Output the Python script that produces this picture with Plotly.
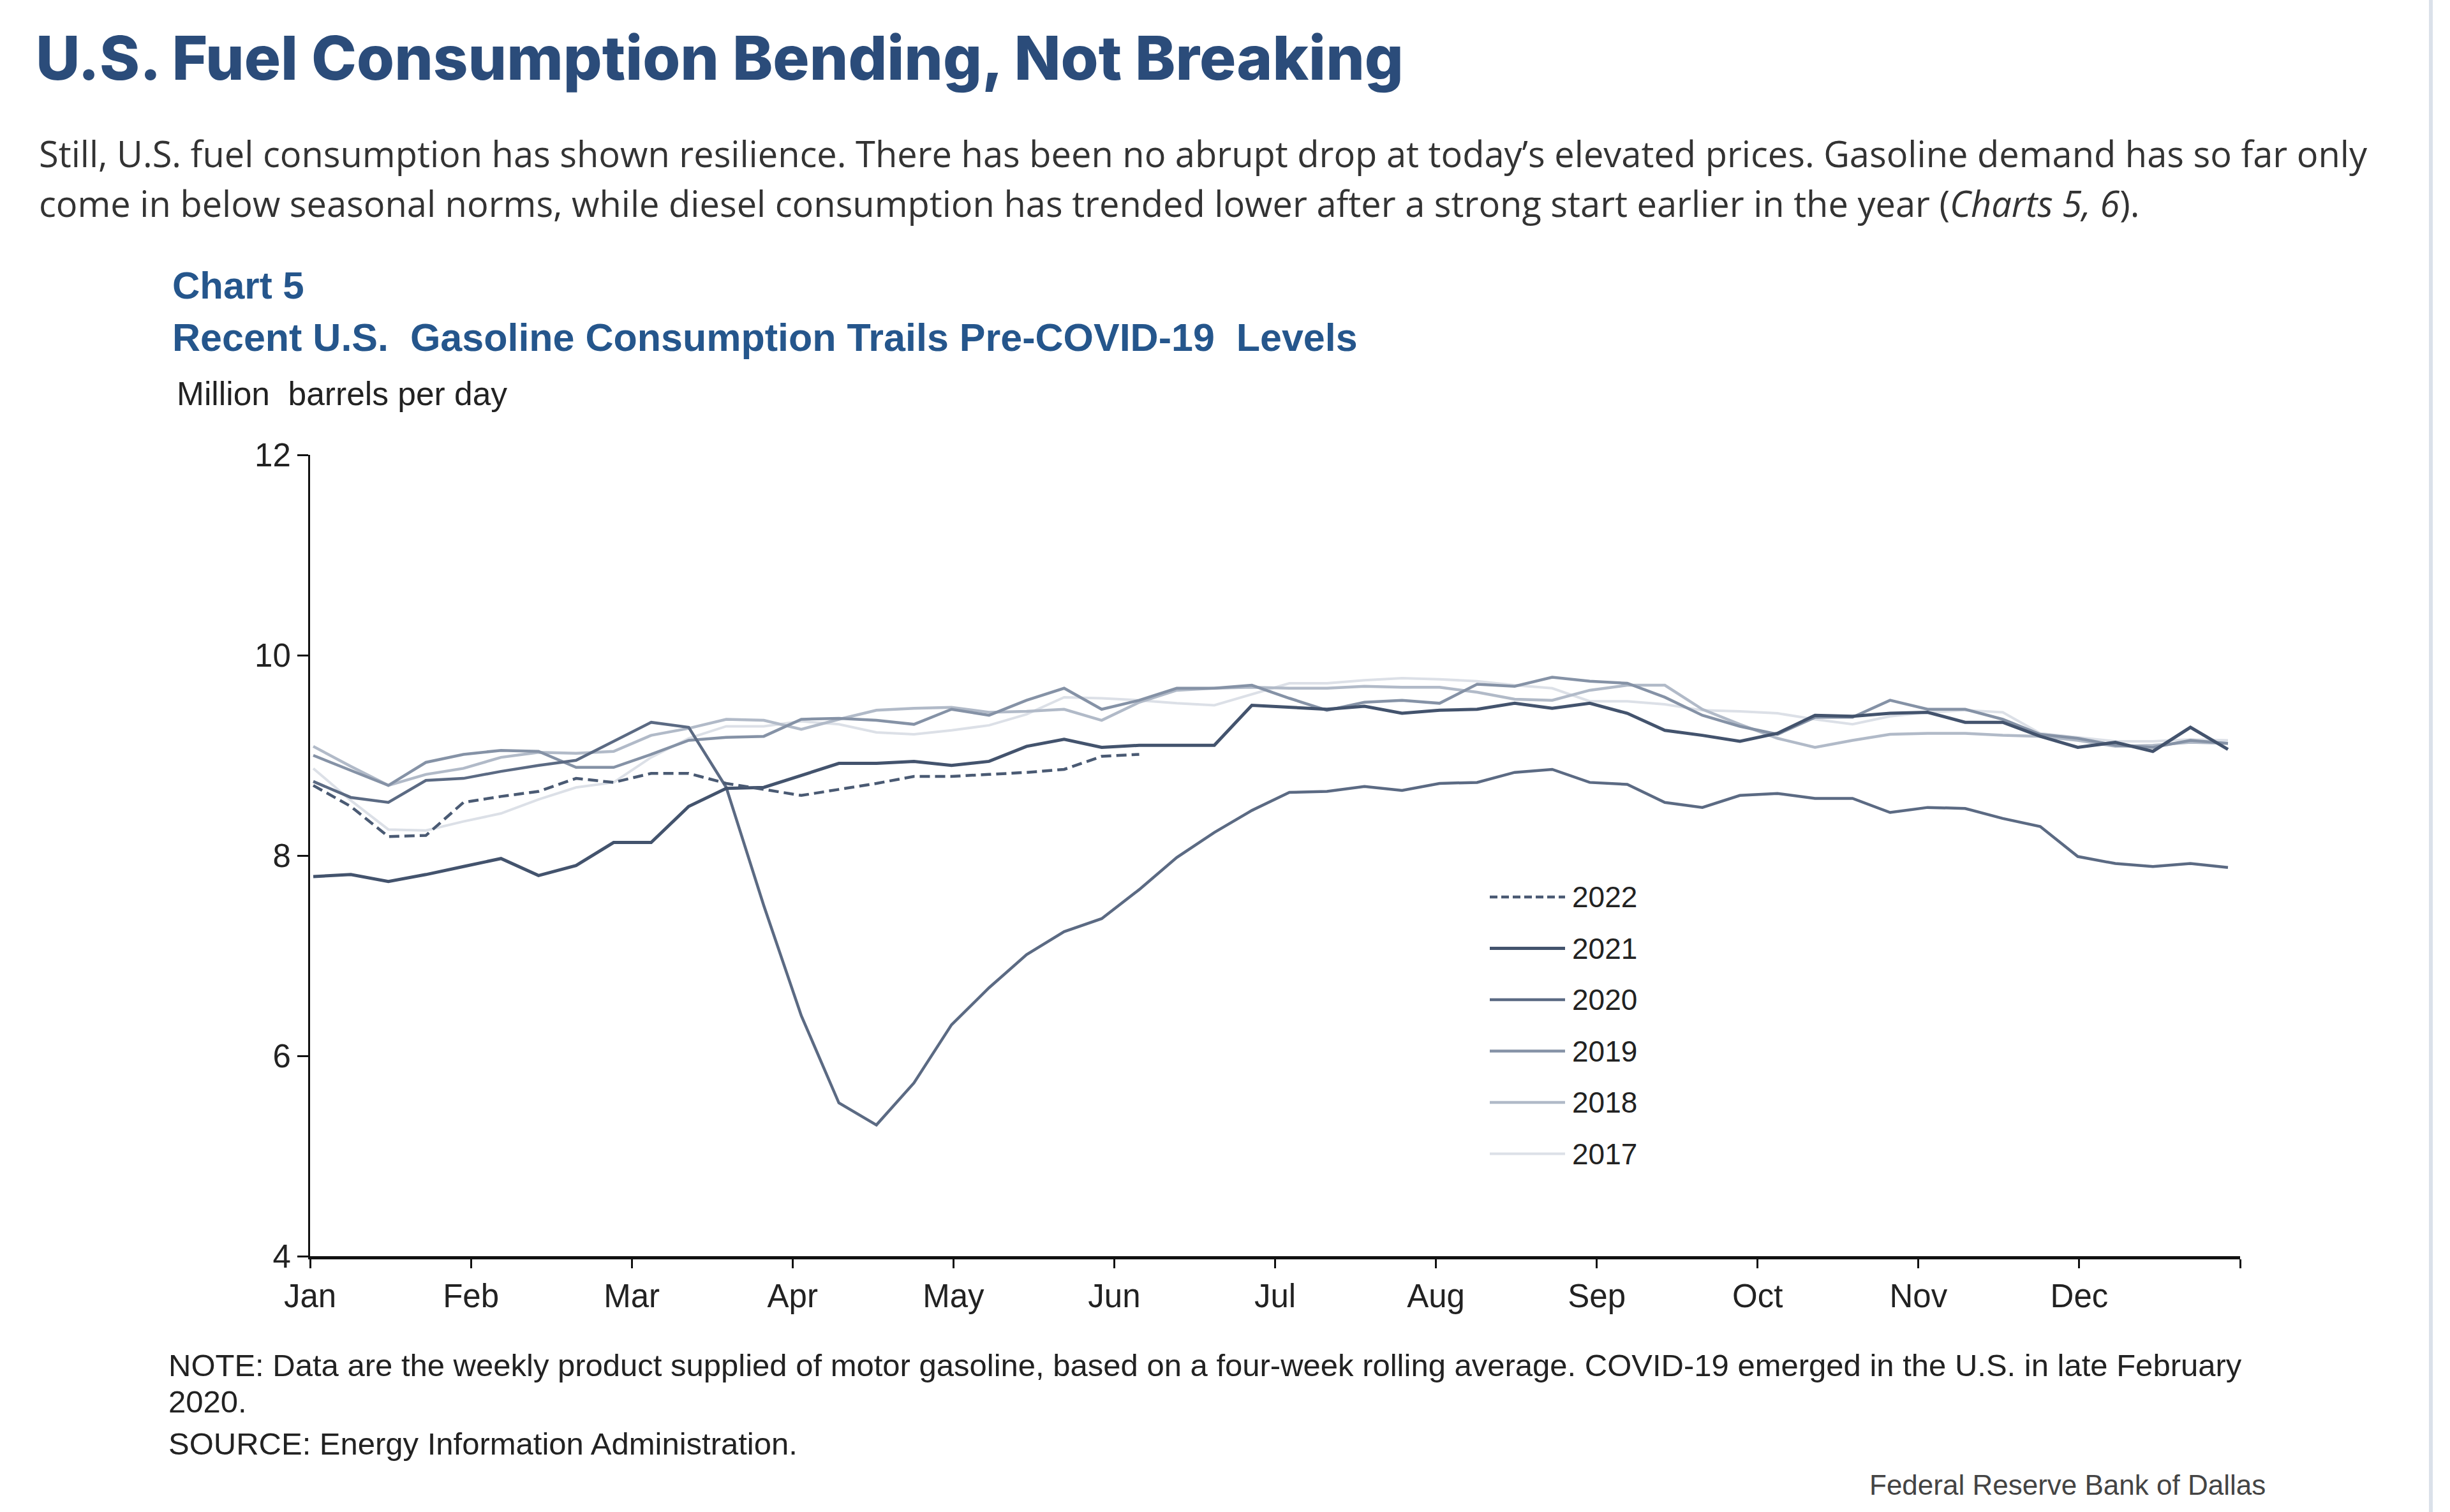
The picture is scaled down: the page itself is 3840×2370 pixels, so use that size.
import plotly.graph_objects as go

# ---------------- data (million barrels per day, weekly, 4-wk avg) ----------------
weeks = list(range(52))
weeks_2022 = list(range(23))
month_labels = ["Jan", "Feb", "Mar", "Apr", "May", "Jun", "Jul", "Aug", "Sep", "Oct", "Nov", "Dec"]
years = ["2022", "2021", "2020", "2019", "2018", "2017"]

y2017 = [8.87, 8.55, 8.26, 8.25, 8.34, 8.42, 8.56, 8.68, 8.73, 8.98, 9.17, 9.29, 9.29, 9.34,
         9.31, 9.23, 9.21, 9.25, 9.30, 9.41, 9.58, 9.57, 9.55, 9.52, 9.50, 9.61, 9.72,
         9.72, 9.75, 9.77, 9.76, 9.74, 9.70, 9.67, 9.54, 9.54, 9.51, 9.45, 9.44, 9.42,
         9.36, 9.31, 9.39, 9.43, 9.45, 9.43, 9.22, 9.18, 9.14, 9.14, 9.16, 9.15]
y2018 = [9.09, 8.89, 8.70, 8.81, 8.87, 8.98, 9.03, 9.02, 9.04, 9.20, 9.27, 9.36, 9.35, 9.26,
         9.36, 9.45, 9.47, 9.48, 9.43, 9.44, 9.46, 9.35, 9.53, 9.65, 9.67, 9.68, 9.67,
         9.67, 9.69, 9.68, 9.68, 9.63, 9.56, 9.55, 9.65, 9.70, 9.70, 9.46, 9.31, 9.17,
         9.08, 9.15, 9.21, 9.22, 9.22, 9.20, 9.19, 9.15, 9.09, 9.10, 9.13, 9.12]
y2019 = [9.00, 8.85, 8.70, 8.93, 9.01, 9.05, 9.04, 8.88, 8.88, 9.01, 9.15, 9.18, 9.19, 9.36,
         9.37, 9.35, 9.31, 9.46, 9.40, 9.55, 9.67, 9.46, 9.55, 9.67, 9.67, 9.70, 9.57,
         9.45, 9.53, 9.55, 9.52, 9.71, 9.69, 9.78, 9.74, 9.72, 9.58, 9.40, 9.29, 9.21,
         9.38, 9.38, 9.55, 9.46, 9.46, 9.36, 9.21, 9.17, 9.10, 9.08, 9.15, 9.12]
y2020 = [8.74, 8.58, 8.53, 8.75, 8.77, 8.84, 8.90, 8.95, 9.14, 9.33, 9.28, 8.68, 7.50, 6.40,
         5.53, 5.31, 5.73, 6.31, 6.68, 7.01, 7.24, 7.37, 7.66, 7.98, 8.23, 8.45, 8.63,
         8.64, 8.69, 8.65, 8.72, 8.73, 8.83, 8.86, 8.73, 8.71, 8.53, 8.48, 8.60, 8.62,
         8.57, 8.57, 8.43, 8.48, 8.47, 8.37, 8.29, 7.99, 7.92, 7.89, 7.92, 7.88]
y2021 = [7.79, 7.81, 7.74, 7.81, 7.89, 7.97, 7.80, 7.90, 8.13, 8.13, 8.49, 8.67, 8.68, 8.80,
         8.92, 8.92, 8.94, 8.90, 8.94, 9.09, 9.16, 9.08, 9.10, 9.10, 9.10, 9.50, 9.48,
         9.46, 9.49, 9.42, 9.45, 9.46, 9.52, 9.47, 9.52, 9.42, 9.25, 9.20, 9.14, 9.22,
         9.40, 9.39, 9.42, 9.43, 9.33, 9.33, 9.19, 9.08, 9.13, 9.04, 9.28, 9.06]
y2022 = [8.70, 8.49, 8.19, 8.20, 8.53, 8.59, 8.64, 8.77, 8.73, 8.82, 8.82, 8.72, 8.66, 8.60,
         8.66, 8.72, 8.79, 8.79, 8.81, 8.83, 8.86, 8.99, 9.01]

y_ticks = [4, 6, 8, 10, 12]

# ---------------- styles ----------------
colors = {"2022": "#4a5a73", "2021": "#43536d", "2020": "#5b6a83",
          "2019": "#8592a6", "2018": "#b1bac8", "2017": "#dce0e7"}
widths = {"2022": 4.5, "2021": 5, "2020": 4.5, "2019": 4.5, "2018": 4.5, "2017": 4}
dashes = {"2022": "16px,8px", "2021": "solid", "2020": "solid",
          "2019": "solid", "2018": "solid", "2017": "solid"}

series = {"2017": (weeks, y2017), "2018": (weeks, y2018), "2019": (weeks, y2019),
          "2020": (weeks, y2020), "2021": (weeks, y2021), "2022": (weeks_2022, y2022)}

W, H = 3840, 2370
L, R, T, B = 486, 3511, 713, 1969  # plot area in px


def px(xp):
    return (xp - L) / (R - L)


def py(yp):
    return (B - yp) / (B - T)


fig = go.Figure()
for yr in ["2017", "2018", "2019", "2020", "2021", "2022"]:
    xs, ys = series[yr]
    fig.add_trace(go.Scatter(x=xs, y=ys, mode="lines", name=yr, showlegend=False,
                             line=dict(color=colors[yr], width=widths[yr], dash=dashes[yr])))

# month tick positions (week units)
wk_per_month = 4.284
x0 = -0.085
month_ticks = [x0 + wk_per_month * k for k in range(13)]

axis_font = dict(family="Liberation Sans, Arial, sans-serif", size=51, color="#222222")
fig.update_xaxes(range=[x0, x0 + 12 * wk_per_month], showgrid=False, zeroline=False,
                 showline=True, linecolor="#111111", linewidth=5,
                 ticks="outside", ticklen=14, tickwidth=3, tickcolor="#111111",
                 tickvals=month_ticks, ticktext=month_labels + [""], tickfont=axis_font)
fig.update_yaxes(range=[4, 12], showgrid=False, zeroline=False,
                 showline=True, linecolor="#111111", linewidth=3,
                 ticks="outside", ticklen=17, tickwidth=3, tickcolor="#111111",
                 tickvals=y_ticks, ticktext=[str(v) for v in y_ticks], tickfont=axis_font)

annotations = []
shapes = []

def txt(text, xp, yp, size, color, family, weight="normal", xanchor="left", style="normal"):
    annotations.append(dict(text=text, x=px(xp), y=py(yp), xref="paper", yref="paper",
                            xanchor=xanchor, yanchor="middle", showarrow=False, align="left",
                            font=dict(size=size, color=color, family=family, weight=weight, style=style)))

NB = "\u00a0"
txt("U.S. Fuel Consumption Bending, Not Breaking", 54, 90, 95.5, "#2b4c7a", "Inter, Lato, sans-serif", weight=800)
para_font = "Open Sans, sans-serif"
txt("Still, U.S. fuel consumption has shown resilience. There has been no abrupt drop at today’s elevated prices. Gasoline demand has so far only",
    59, 240, 56, "#333333", para_font)
txt("come in below seasonal norms, while diesel consumption has trended lower after a strong start earlier in the year (<i>Charts 5, 6</i>).",
    59, 318, 56, "#333333", para_font)
txt("Chart 5", 268, 448, 60, "#25568c", "Liberation Sans, Arial, sans-serif", weight="bold")
txt("Recent U.S." + NB + " Gasoline Consumption Trails Pre-COVID-19" + NB + " Levels", 268, 529, 61, "#25568c",
    "Liberation Sans, Arial, sans-serif", weight="bold")
txt("Million" + NB + " barrels per day", 275, 617, 51.5, "#222222", "Liberation Sans, Arial, sans-serif")
note_font = "Liberation Sans, Arial, sans-serif"
txt("NOTE: Data are the weekly product supplied of motor gasoline, based on a four-week rolling average. COVID-19 emerged in the U.S. in late February",
    262, 2140, 49, "#222222", note_font)
txt("2020.", 262, 2197, 49, "#222222", note_font)
txt("SOURCE: Energy Information Administration.", 262, 2263, 49, "#222222", note_font)
txt("Federal Reserve Bank of Dallas", 3553, 2327, 44, "#444444", note_font, xanchor="right")

# legend (manual, long line samples)
leg_y0, leg_dy = 1406, 80.5
for i, yr in enumerate(years):
    yy = leg_y0 + leg_dy * i
    shapes.append(dict(type="line", xref="paper", yref="paper", x0=px(2335), x1=px(2453),
                       y0=py(yy), y1=py(yy),
                       line=dict(color=colors[yr], width=widths[yr],
                                 dash="12px,6px" if yr == "2022" else "solid")))
    txt(yr, 2462, yy, 46, "#222222", "Liberation Sans, Arial, sans-serif")

# page divider on right
shapes.append(dict(type="line", xref="paper", yref="paper", x0=px(3810), x1=px(3810),
                   y0=py(0), y1=py(H), line=dict(color="#dbe1ea", width=6)))

fig.update_layout(width=W, height=H, margin=dict(l=L, r=W - R, t=T, b=H - B),
                  paper_bgcolor="white", plot_bgcolor="white",
                  annotations=annotations, shapes=shapes, showlegend=False)

fig.write_html("out.html")
